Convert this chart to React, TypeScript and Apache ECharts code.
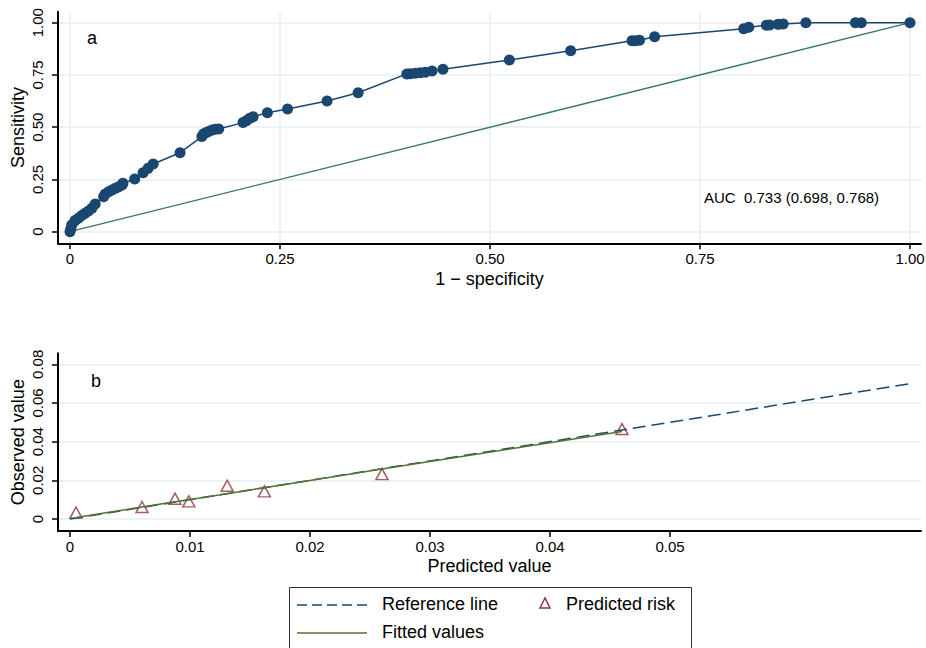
import React, { useEffect, useRef } from "react";
import * as echarts from "echarts";

// ---------- Panel a: ROC curve ----------
const rocFpr = [
  0, 0.001, 0.002, 0.006, 0.01, 0.014, 0.018, 0.022, 0.026, 0.03, 0.04, 0.042, 0.046, 0.05, 0.054,
  0.058, 0.062, 0.063, 0.077, 0.087, 0.093, 0.099, 0.131, 0.157, 0.159, 0.162, 0.165, 0.169,
  0.173, 0.177, 0.206, 0.21, 0.214, 0.218, 0.235, 0.259, 0.306, 0.343, 0.401, 0.405, 0.411,
  0.417, 0.423, 0.431, 0.444, 0.523, 0.596, 0.669, 0.673, 0.678, 0.696, 0.802, 0.808, 0.829,
  0.833, 0.843, 0.849, 0.876, 0.935, 0.942, 1.0,
];
const rocTpr = [
  0, 0.014, 0.032, 0.053, 0.064, 0.077, 0.088, 0.099, 0.112, 0.133, 0.167, 0.18, 0.191, 0.2, 0.208,
  0.215, 0.223, 0.232, 0.252, 0.282, 0.303, 0.324, 0.378, 0.455, 0.467, 0.474, 0.479, 0.487,
  0.49, 0.491, 0.522, 0.531, 0.543, 0.55, 0.569, 0.587, 0.625, 0.665, 0.755, 0.756, 0.758,
  0.761, 0.763, 0.769, 0.777, 0.822, 0.866, 0.914, 0.914, 0.916, 0.933, 0.971, 0.978, 0.988,
  0.989, 0.992, 0.994, 1.0, 1.0, 1.0, 1.0,
];
const rocDiagonal = [0, 1];
const rocTicks = [0, 0.25, 0.5, 0.75, 1];
const rocTickLabels = ["0", "0.25", "0.50", "0.75", "1.00"];
const aucText = "AUC  0.733 (0.698, 0.768)";

// ---------- Panel b: calibration ----------
const calPredicted = [0.0005, 0.006, 0.00875, 0.0099, 0.0131, 0.0162, 0.026, 0.046];
const calObserved = [0.0033, 0.0062, 0.0105, 0.0091, 0.0172, 0.0143, 0.0232, 0.0465];
const calFitted = [0.0008, 0.0062, 0.0089, 0.01, 0.0131, 0.0162, 0.0258, 0.0453];
const calReference = [0, 0.07];
const calXTicks = [0, 0.01, 0.02, 0.03, 0.04, 0.05];
const calXTickLabels = ["0", "0.01", "0.02", "0.03", "0.04", "0.05"];
const calYTicks = [0, 0.02, 0.04, 0.06, 0.08];
const calYTickLabels = ["0", "0.02", "0.04", "0.06", "0.08"];

const NAVY = "#1a476f";
const TEAL = "#35776a";
const MAROON = "#90353b";
const GREEN = "#55752f";
const GRIDC = "#e8eef1";
const FONT = "Liberation Sans, Arial, sans-serif";

function labelFor(ticks: number[], labels: string[]) {
  return (v: number) => {
    let best = 0;
    for (let i = 0; i < ticks.length; i++) {
      if (Math.abs(ticks[i] - v) < Math.abs(ticks[best] - v)) best = i;
    }
    return labels[best];
  };
}

function axisCommon(ticks: number[], labels: string[], showSplit: boolean, rotate: number, margin: number) {
  return {
    type: "value" as const,
    axisLine: { show: true, onZero: false, lineStyle: { color: "#000", width: 2 } },
    axisTick: { show: true, length: 6, lineStyle: { color: "#000", width: 1.5 }, customValues: ticks },
    axisLabel: {
      customValues: ticks,
      formatter: labelFor(ticks, labels),
      fontSize: 15,
      color: "#000",
      fontFamily: FONT,
      rotate,
      margin,
      showMinLabel: true,
      showMaxLabel: true,
    },
    splitLine: { show: showSplit, lineStyle: { color: GRIDC, width: 1.5 } },
    nameLocation: "middle" as const,
    nameMoveOverlap: false,
    nameTextStyle: { fontSize: 18, color: "#000", fontFamily: FONT },
  };
}

export default function App() {
  const ref = useRef<HTMLDivElement>(null);
  useEffect(() => {
    if (!ref.current) return;
    const chart = echarts.init(ref.current, undefined, { renderer: "svg" });

    const rocData = rocFpr.map((x, i) => [x, rocTpr[i]]);
    const diagData = rocDiagonal.map((v) => [v, v]);
    const obsData = calPredicted.map((x, i) => [x, calObserved[i]]);
    const fitData = calPredicted.map((x, i) => [x, calFitted[i]]);
    const refData = calReference.map((v) => [v, v]);

    const option: any = {
      animation: false,
      textStyle: { fontFamily: FONT },
      grid: [
        { left: 58, top: 11.7, width: 863, height: 231.6, outerBoundsMode: "none", containLabel: false },
        { left: 58, top: 353.3, width: 863, height: 177.7, outerBoundsMode: "none", containLabel: false },
      ],
      xAxis: [
        {
          ...axisCommon(rocTicks, rocTickLabels, true, 0, 8),
          gridIndex: 0,
          min: -12 / 840,
          max: 1 + 11 / 840,
          name: "1 − specificity",
          nameGap: 27,
        },
        {
          ...axisCommon(calXTicks, calXTickLabels, false, 0, 8),
          gridIndex: 1,
          min: -0.001,
          max: 0.07092,
          name: "Predicted value",
          nameGap: 26,
        },
      ],
      yAxis: [
        {
          ...axisCommon(rocTicks, rocTickLabels, true, 90, 13),
          gridIndex: 0,
          min: -11.6 / 209,
          max: 1 + 11 / 209,
          name: "Sensitivity",
          nameGap: 31,
        },
        {
          ...axisCommon(calYTicks, calYTickLabels, true, 90, 13),
          gridIndex: 1,
          min: -12 / 1933.75,
          max: 0.08 + 11 / 1933.75,
          name: "Observed value",
          nameGap: 31,
        },
      ],
      series: [
        {
          type: "line",
          xAxisIndex: 0,
          yAxisIndex: 0,
          data: diagData,
          showSymbol: false,
          lineStyle: { color: TEAL, width: 1.3 },
          silent: true,
        },
        {
          type: "line",
          xAxisIndex: 0,
          yAxisIndex: 0,
          data: rocData,
          symbol: "circle",
          symbolSize: 11,
          showSymbol: true,
          showAllSymbol: true,
          clip: false,
          itemStyle: { color: NAVY },
          lineStyle: { color: NAVY, width: 1.5 },
        },
        {
          type: "line",
          xAxisIndex: 1,
          yAxisIndex: 1,
          data: refData,
          showSymbol: false,
          lineStyle: { color: NAVY, width: 1.5, type: [13, 6] },
        },
        {
          type: "line",
          xAxisIndex: 1,
          yAxisIndex: 1,
          data: fitData,
          showSymbol: false,
          lineStyle: { color: GREEN, width: 1.5 },
        },
        {
          type: "scatter",
          xAxisIndex: 1,
          yAxisIndex: 1,
          data: obsData,
          symbol: "triangle",
          symbolSize: [12, 11],
          clip: false,
          itemStyle: { color: "rgba(0,0,0,0)", borderColor: MAROON, borderWidth: 1.5 },
        },
      ],
      graphic: [
        { type: "text", left: 87, top: 29, style: { text: "a", fontSize: 18, fill: "#000", fontFamily: FONT } },
        { type: "text", left: 91, top: 372, style: { text: "b", fontSize: 18, fill: "#000", fontFamily: FONT } },
        {
          type: "text",
          left: 704,
          top: 190,
          style: { text: aucText, fontSize: 15, fill: "#000", fontFamily: FONT },
        },
        {
          type: "rect",
          shape: { x: 289.5, y: 587.5, width: 402, height: 80 },
          style: { fill: "#fff", stroke: "#333", lineWidth: 1 },
        },
        {
          type: "line",
          shape: { x1: 297, y1: 605, x2: 367, y2: 605 },
          style: { stroke: NAVY, lineWidth: 1.5, lineDash: [10, 5] },
        },
        {
          type: "text",
          left: 382,
          top: 595,
          style: { text: "Reference line", fontSize: 18, fill: "#000", fontFamily: FONT },
        },
        {
          type: "polygon",
          shape: { points: [[545, 598], [540, 608], [550, 608]] },
          style: { fill: "none", stroke: MAROON, lineWidth: 1.5 },
        },
        {
          type: "text",
          left: 566,
          top: 595,
          style: { text: "Predicted risk", fontSize: 18, fill: "#000", fontFamily: FONT },
        },
        {
          type: "line",
          shape: { x1: 297, y1: 633, x2: 367, y2: 633 },
          style: { stroke: GREEN, lineWidth: 1.5 },
        },
        {
          type: "text",
          left: 382,
          top: 623,
          style: { text: "Fitted values", fontSize: 18, fill: "#000", fontFamily: FONT },
        },
      ],
    };
    chart.setOption(option);
    return () => chart.dispose();
  }, []);
  return (
    <div
      ref={ref}
      style={{ position: "fixed", left: 0, top: 0, width: 926, height: 648, background: "#fff" }}
    />
  );
}
